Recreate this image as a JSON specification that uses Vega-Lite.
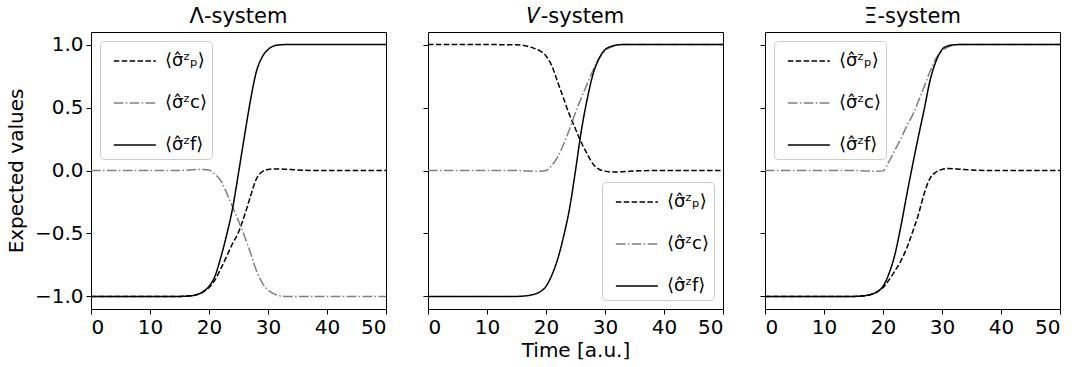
{
  "$schema": "https://vega.github.io/schema/vega-lite/v6.json",
  "padding": {"left": 5, "top": 5, "right": 5, "bottom": 5},
  "datasets": {
    "d": [
      {"system":"L","t":0,"p":-1,"c":0,"f":-1},
      {"system":"L","t":5,"p":-1,"c":0,"f":-1},
      {"system":"L","t":10,"p":-1,"c":0,"f":-1},
      {"system":"L","t":15,"p":-1,"c":0,"f":-1},
      {"system":"L","t":16,"p":-0.998,"c":0.002,"f":-0.998},
      {"system":"L","t":17,"p":-0.995,"c":0.005,"f":-0.995},
      {"system":"L","t":18,"p":-0.985,"c":0.008,"f":-0.985},
      {"system":"L","t":19,"p":-0.965,"c":0.008,"f":-0.963},
      {"system":"L","t":20,"p":-0.93,"c":0.004,"f":-0.92},
      {"system":"L","t":21,"p":-0.87,"c":-0.03,"f":-0.84},
      {"system":"L","t":22,"p":-0.78,"c":-0.08,"f":-0.69},
      {"system":"L","t":23,"p":-0.68,"c":-0.18,"f":-0.51},
      {"system":"L","t":24,"p":-0.58,"c":-0.29,"f":-0.30},
      {"system":"L","t":25,"p":-0.49,"c":-0.40,"f":-0.02},
      {"system":"L","t":26,"p":-0.36,"c":-0.52,"f":0.27},
      {"system":"L","t":27,"p":-0.21,"c":-0.65,"f":0.55},
      {"system":"L","t":28,"p":-0.07,"c":-0.79,"f":0.78},
      {"system":"L","t":29,"p":-0.01,"c":-0.89,"f":0.90},
      {"system":"L","t":30,"p":0.008,"c":-0.95,"f":0.96},
      {"system":"L","t":31,"p":0.012,"c":-0.98,"f":0.99},
      {"system":"L","t":32,"p":0.012,"c":-0.995,"f":0.998},
      {"system":"L","t":33,"p":0.01,"c":-1,"f":1},
      {"system":"L","t":34,"p":0.007,"c":-1,"f":1},
      {"system":"L","t":35,"p":0.004,"c":-1,"f":1},
      {"system":"L","t":36,"p":0.002,"c":-1,"f":1},
      {"system":"L","t":38,"p":0,"c":-1,"f":1},
      {"system":"L","t":40,"p":0,"c":-1,"f":1},
      {"system":"L","t":45,"p":0,"c":-1,"f":1},
      {"system":"L","t":50,"p":0,"c":-1,"f":1},

      {"system":"V","t":0,"p":1,"c":0,"f":-1},
      {"system":"V","t":5,"p":1,"c":0,"f":-1},
      {"system":"V","t":10,"p":1,"c":0,"f":-1},
      {"system":"V","t":15,"p":0.998,"c":0,"f":-1},
      {"system":"V","t":16,"p":0.995,"c":-0.002,"f":-0.998},
      {"system":"V","t":17,"p":0.985,"c":-0.004,"f":-0.993},
      {"system":"V","t":18,"p":0.97,"c":-0.006,"f":-0.983},
      {"system":"V","t":19,"p":0.95,"c":-0.006,"f":-0.963},
      {"system":"V","t":20,"p":0.91,"c":0.0,"f":-0.92},
      {"system":"V","t":21,"p":0.83,"c":0.04,"f":-0.83},
      {"system":"V","t":22,"p":0.70,"c":0.11,"f":-0.70},
      {"system":"V","t":23,"p":0.57,"c":0.21,"f":-0.52},
      {"system":"V","t":24,"p":0.44,"c":0.33,"f":-0.30},
      {"system":"V","t":25,"p":0.33,"c":0.46,"f":0.0},
      {"system":"V","t":26,"p":0.22,"c":0.58,"f":0.32},
      {"system":"V","t":27,"p":0.13,"c":0.69,"f":0.57},
      {"system":"V","t":28,"p":0.05,"c":0.80,"f":0.77},
      {"system":"V","t":29,"p":0.01,"c":0.89,"f":0.89},
      {"system":"V","t":30,"p":-0.005,"c":0.95,"f":0.96},
      {"system":"V","t":31,"p":-0.012,"c":0.98,"f":0.985},
      {"system":"V","t":32,"p":-0.012,"c":0.995,"f":0.997},
      {"system":"V","t":33,"p":-0.01,"c":1,"f":1},
      {"system":"V","t":34,"p":-0.007,"c":1,"f":1},
      {"system":"V","t":35,"p":-0.004,"c":1,"f":1},
      {"system":"V","t":36,"p":-0.002,"c":1,"f":1},
      {"system":"V","t":38,"p":0,"c":1,"f":1},
      {"system":"V","t":40,"p":0,"c":1,"f":1},
      {"system":"V","t":45,"p":0,"c":1,"f":1},
      {"system":"V","t":50,"p":0,"c":1,"f":1},

      {"system":"X","t":0,"p":-1,"c":0,"f":-1},
      {"system":"X","t":5,"p":-1,"c":0,"f":-1},
      {"system":"X","t":10,"p":-1,"c":0,"f":-1},
      {"system":"X","t":15,"p":-1,"c":0,"f":-1},
      {"system":"X","t":16,"p":-0.998,"c":-0.001,"f":-0.998},
      {"system":"X","t":17,"p":-0.995,"c":-0.003,"f":-0.993},
      {"system":"X","t":18,"p":-0.985,"c":-0.005,"f":-0.983},
      {"system":"X","t":19,"p":-0.965,"c":-0.006,"f":-0.963},
      {"system":"X","t":20,"p":-0.93,"c":-0.003,"f":-0.92},
      {"system":"X","t":21,"p":-0.87,"c":0.07,"f":-0.82},
      {"system":"X","t":22,"p":-0.80,"c":0.16,"f":-0.67},
      {"system":"X","t":23,"p":-0.72,"c":0.25,"f":-0.45},
      {"system":"X","t":24,"p":-0.62,"c":0.35,"f":-0.20},
      {"system":"X","t":25,"p":-0.49,"c":0.44,"f":0.04},
      {"system":"X","t":26,"p":-0.35,"c":0.55,"f":0.27},
      {"system":"X","t":27,"p":-0.18,"c":0.67,"f":0.49},
      {"system":"X","t":28,"p":-0.06,"c":0.79,"f":0.72},
      {"system":"X","t":29,"p":-0.012,"c":0.89,"f":0.87},
      {"system":"X","t":30,"p":0.008,"c":0.95,"f":0.96},
      {"system":"X","t":31,"p":0.015,"c":0.98,"f":0.99},
      {"system":"X","t":32,"p":0.014,"c":0.995,"f":0.998},
      {"system":"X","t":33,"p":0.01,"c":1,"f":1},
      {"system":"X","t":34,"p":0.007,"c":1,"f":1},
      {"system":"X","t":35,"p":0.004,"c":1,"f":1},
      {"system":"X","t":36,"p":0.002,"c":1,"f":1},
      {"system":"X","t":38,"p":0,"c":1,"f":1},
      {"system":"X","t":40,"p":0,"c":1,"f":1},
      {"system":"X","t":45,"p":0,"c":1,"f":1},
      {"system":"X","t":50,"p":0,"c":1,"f":1}
    ]
  },
  "config": {
    "font": "DejaVu Sans",
    "view": {"stroke": "#000000", "strokeWidth": 1},
    "axis": {
      "domain": false,
      "grid": false,
      "ticks": true,
      "tickColor": "#000000",
      "tickSize": 5,
      "tickWidth": 1,
      "labelFont": "DejaVu Sans",
      "labelFontSize": 20,
      "labelColor": "#000000",
      "labelPadding": 3,
      "titleFont": "DejaVu Sans",
      "titleFontSize": 20,
      "titleFontWeight": "normal",
      "titleColor": "#000000"
    },
    "title": {"font": "DejaVu Sans", "fontSize": 21, "fontWeight": "normal", "color": "#000000", "offset": 5},
    "legend": {
      "labelFont": "DejaVu Sans",
      "labelFontSize": 18,
      "labelColor": "#000000",
      "labelOffset": 30,
      "symbolType": "M-0.44,0H2.56",
      "symbolSize": 784,
      "symbolStrokeWidth": 1.5,
      "rowPadding": 18,
      "padding": 5,
      "offset": 9,
      "fillColor": "rgba(255,255,255,0.8)",
      "strokeColor": "#cccccc",
      "cornerRadius": 4
    }
  },
  "bounds": "flush",
  "spacing": 42,
  "resolve": {"legend": {"color": "independent", "strokeDash": "independent"}},
  "hconcat": [
    {
      "width": 295, "height": 277,
      "title": "Λ-system",
      "data": {"name": "d"},
      "transform": [{"filter": "datum.system === 'L'"}, {"fold": ["p", "c", "f"], "as": ["series", "value"]}],
      "mark": {"type": "line", "strokeWidth": 1.5, "interpolate": "monotone"},
      "encoding": {
        "x": {"field": "t", "type": "quantitative", "scale": {"domain": [0, 50], "nice": false}, "axis": {"values": [0, 10, 20, 30, 40, 50], "title": null}},
        "y": {"field": "value", "type": "quantitative", "scale": {"domain": [-1.1, 1.1], "nice": false, "zero": false}, "axis": {"values": [-1, -0.5, 0, 0.5, 1], "format": ".1f", "title": "Expected values", "titlePadding": 8}},
        "color": {"field": "series", "type": "nominal", "scale": {"domain": ["p", "c", "f"], "range": ["#000000", "#808080", "#000000"]}, "legend": {"orient": "top-left", "title": null, "labelExpr": "datum.label === 'p' ? '⟨σ̂ᶻₚ⟩' : datum.label === 'c' ? '⟨σ̂ᶻc⟩' : '⟨σ̂ᶻf⟩'"}},
        "strokeDash": {"field": "series", "type": "nominal", "scale": {"domain": ["p", "c", "f"], "range": [[5.5, 2.4], [9.6, 2.4, 1.5, 2.4], [1, 0]]}, "legend": {"orient": "top-left", "title": null, "labelExpr": "datum.label === 'p' ? '⟨σ̂ᶻₚ⟩' : datum.label === 'c' ? '⟨σ̂ᶻc⟩' : '⟨σ̂ᶻf⟩'"}}
      }
    },
    {
      "width": 295, "height": 277,
      "title": "𝑉-system",
      "data": {"name": "d"},
      "transform": [{"filter": "datum.system === 'V'"}, {"fold": ["p", "c", "f"], "as": ["series", "value"]}],
      "mark": {"type": "line", "strokeWidth": 1.5, "interpolate": "monotone"},
      "encoding": {
        "x": {"field": "t", "type": "quantitative", "scale": {"domain": [0, 50], "nice": false}, "axis": {"values": [0, 10, 20, 30, 40, 50], "title": "Time [a.u.]", "titlePadding": 3}},
        "y": {"field": "value", "type": "quantitative", "scale": {"domain": [-1.1, 1.1], "nice": false, "zero": false}, "axis": {"values": [-1, -0.5, 0, 0.5, 1], "labels": false, "title": null}},
        "color": {"field": "series", "type": "nominal", "scale": {"domain": ["p", "c", "f"], "range": ["#000000", "#808080", "#000000"]}, "legend": {"orient": "bottom-right", "title": null, "labelExpr": "datum.label === 'p' ? '⟨σ̂ᶻₚ⟩' : datum.label === 'c' ? '⟨σ̂ᶻc⟩' : '⟨σ̂ᶻf⟩'"}},
        "strokeDash": {"field": "series", "type": "nominal", "scale": {"domain": ["p", "c", "f"], "range": [[5.5, 2.4], [9.6, 2.4, 1.5, 2.4], [1, 0]]}, "legend": {"orient": "bottom-right", "title": null, "labelExpr": "datum.label === 'p' ? '⟨σ̂ᶻₚ⟩' : datum.label === 'c' ? '⟨σ̂ᶻc⟩' : '⟨σ̂ᶻf⟩'"}}
      }
    },
    {
      "width": 295, "height": 277,
      "title": "Ξ-system",
      "data": {"name": "d"},
      "transform": [{"filter": "datum.system === 'X'"}, {"fold": ["p", "c", "f"], "as": ["series", "value"]}],
      "mark": {"type": "line", "strokeWidth": 1.5, "interpolate": "monotone"},
      "encoding": {
        "x": {"field": "t", "type": "quantitative", "scale": {"domain": [0, 50], "nice": false}, "axis": {"values": [0, 10, 20, 30, 40, 50], "title": null}},
        "y": {"field": "value", "type": "quantitative", "scale": {"domain": [-1.1, 1.1], "nice": false, "zero": false}, "axis": {"values": [-1, -0.5, 0, 0.5, 1], "labels": false, "title": null}},
        "color": {"field": "series", "type": "nominal", "scale": {"domain": ["p", "c", "f"], "range": ["#000000", "#808080", "#000000"]}, "legend": {"orient": "top-left", "title": null, "labelExpr": "datum.label === 'p' ? '⟨σ̂ᶻₚ⟩' : datum.label === 'c' ? '⟨σ̂ᶻc⟩' : '⟨σ̂ᶻf⟩'"}},
        "strokeDash": {"field": "series", "type": "nominal", "scale": {"domain": ["p", "c", "f"], "range": [[5.5, 2.4], [9.6, 2.4, 1.5, 2.4], [1, 0]]}, "legend": {"orient": "top-left", "title": null, "labelExpr": "datum.label === 'p' ? '⟨σ̂ᶻₚ⟩' : datum.label === 'c' ? '⟨σ̂ᶻc⟩' : '⟨σ̂ᶻf⟩'"}}
      }
    }
  ]
}
